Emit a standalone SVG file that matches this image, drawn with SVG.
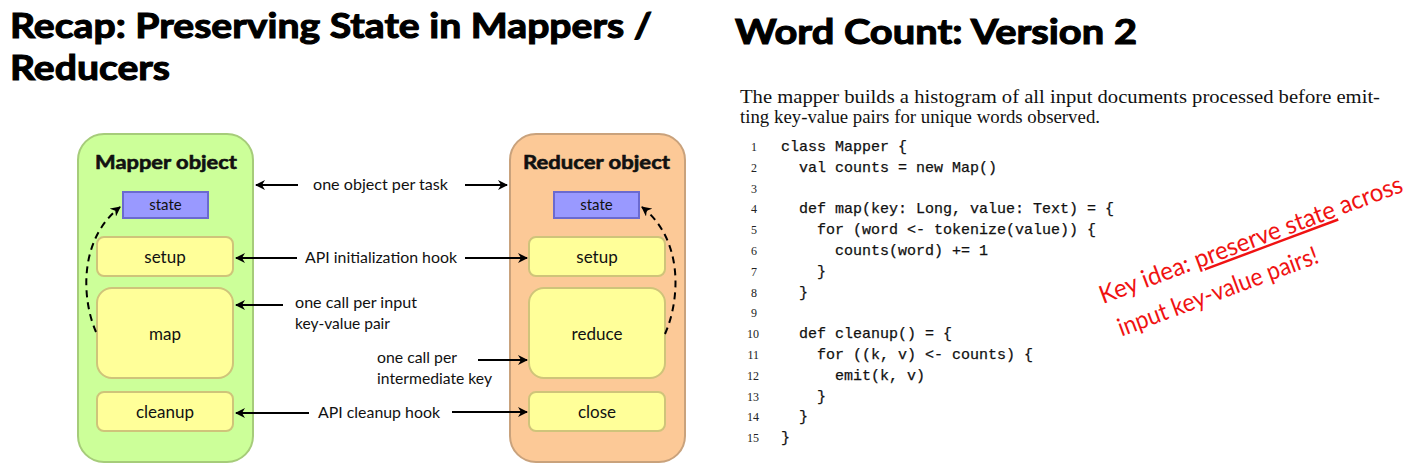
<svg xmlns="http://www.w3.org/2000/svg" width="1421" height="465" viewBox="0 0 1421 465">
<style>
.title{font-family:Lato,"Liberation Sans",sans-serif;font-weight:bold;font-size:35px;fill:#000;stroke:#000;stroke-width:1.1px}
.lbl{font-family:Lato,"Open Sans","Liberation Sans",sans-serif;font-size:16px;fill:#111}
.head{font-family:Lato,"Liberation Sans",sans-serif;font-weight:bold;font-size:19px;fill:#111;stroke:#111;stroke-width:0.6px}
.box{font-family:Lato,"Liberation Sans",sans-serif;font-size:17px;fill:#111;text-anchor:middle}
.st{font-family:Lato,"Liberation Sans",sans-serif;font-size:15px;fill:#111;text-anchor:middle}
.y{fill:#ffff99;stroke:#cfc47a;stroke-width:2}
.s{fill:#9999ff;stroke:#6a6ad0;stroke-width:2}
.conn{stroke:#000;stroke-width:2;fill:none}
.dash{stroke:#000;stroke-width:2;fill:none;stroke-dasharray:7 5}
.para{font-family:"Liberation Serif",serif;font-size:18.5px;fill:#111}
.code{font-family:"Liberation Mono",monospace;font-size:15px;fill:#111;white-space:pre;stroke:#111;stroke-width:0.25px}
.ln{font-family:"Liberation Serif",serif;font-size:12px;fill:#222;text-anchor:end}
.red{font-family:Lato,"Liberation Sans",sans-serif;font-size:25px;fill:#f01212}
</style>
<defs>
<marker id="ah" viewBox="0 0 10 10" refX="9" refY="5" markerWidth="5" markerHeight="5" orient="auto-start-reverse" markerUnits="strokeWidth">
<path d="M0,0 L10,5 L0,10 L3,5 z" fill="#000"/>
</marker>
</defs>

<text class="title" x="10" y="38" textLength="642" lengthAdjust="spacingAndGlyphs">Recap: Preserving State in Mappers /</text>
<text class="title" x="10" y="80" textLength="160" lengthAdjust="spacingAndGlyphs">Reducers</text>
<text class="title" x="735" y="44" textLength="402" lengthAdjust="spacingAndGlyphs">Word Count: Version 2</text>

<g id="mapper">
<rect x="78" y="134" width="175" height="328" rx="26" fill="#ccff99" stroke="#a6cc7a" stroke-width="2"/>
<text class="head" x="95" y="169" textLength="142" lengthAdjust="spacingAndGlyphs">Mapper object</text>
</g>
<g id="mapper-state"><rect class="s" x="123" y="192" width="85" height="26"/><text class="st" x="165.5" y="210">state</text></g>
<g id="mapper-setup"><rect class="y" x="97" y="237" width="136" height="39" rx="7"/><text class="box" x="165" y="263">setup</text></g>
<g id="mapper-map"><rect class="y" x="97" y="288" width="136" height="90" rx="15"/><text class="box" x="165" y="340">map</text></g>
<g id="mapper-cleanup"><rect class="y" x="97" y="392" width="136" height="39" rx="7"/><text class="box" x="165" y="418">cleanup</text></g>

<g id="reducer">
<rect x="510" y="134" width="175" height="328" rx="26" fill="#fcc997" stroke="#c9a27c" stroke-width="2"/>
<text class="head" x="523" y="169" textLength="147" lengthAdjust="spacingAndGlyphs">Reducer object</text>
</g>
<g id="reducer-state"><rect class="s" x="554" y="192" width="85" height="26"/><text class="st" x="596.5" y="210">state</text></g>
<g id="reducer-setup"><rect class="y" x="529" y="237" width="136" height="39" rx="7"/><text class="box" x="597" y="263">setup</text></g>
<g id="reducer-reduce"><rect class="y" x="529" y="288" width="136" height="90" rx="15"/><text class="box" x="597" y="340">reduce</text></g>
<g id="reducer-close"><rect class="y" x="529" y="392" width="136" height="39" rx="7"/><text class="box" x="597" y="418">close</text></g>

<g id="labels">
<text class="lbl" x="313" y="190" textLength="135" lengthAdjust="spacingAndGlyphs">one object per task</text>
<text class="lbl" x="305" y="263" textLength="152" lengthAdjust="spacingAndGlyphs">API initialization hook</text>
<text class="lbl" x="295" y="308" textLength="122" lengthAdjust="spacingAndGlyphs">one call per input</text>
<text class="lbl" x="295" y="329" textLength="95" lengthAdjust="spacingAndGlyphs">key-value pair</text>
<text class="lbl" x="377" y="363" textLength="80" lengthAdjust="spacingAndGlyphs">one call per</text>
<text class="lbl" x="377" y="384" textLength="115" lengthAdjust="spacingAndGlyphs">intermediate key</text>
<text class="lbl" x="318" y="418" textLength="122" lengthAdjust="spacingAndGlyphs">API cleanup hook</text>
</g>

<g id="connectors">
<line class="conn" x1="298" y1="185" x2="256" y2="185" marker-end="url(#ah)"/>
<line class="conn" x1="465" y1="185" x2="507" y2="185" marker-end="url(#ah)"/>
<line class="conn" x1="297" y1="258" x2="236" y2="258" marker-end="url(#ah)"/>
<line class="conn" x1="465" y1="258" x2="527" y2="258" marker-end="url(#ah)"/>
<line class="conn" x1="283" y1="305" x2="236" y2="305" marker-end="url(#ah)"/>
<line class="conn" x1="478" y1="360" x2="527" y2="360" marker-end="url(#ah)"/>
<line class="conn" x1="309" y1="413" x2="236" y2="413" marker-end="url(#ah)"/>
<line class="conn" x1="452" y1="412" x2="527" y2="412" marker-end="url(#ah)"/>
<path class="dash" d="M96,332 C82,300 78,240 120,207" marker-end="url(#ah)"/>
<path class="dash" d="M665,334 C680,300 684,240 642,207" marker-end="url(#ah)"/>
</g>

<g id="code">
<text class="para" x="740" y="103" textLength="640" lengthAdjust="spacingAndGlyphs">The mapper builds a histogram of all input documents processed before emit-</text>
<text class="para" x="740" y="123" textLength="360" lengthAdjust="spacingAndGlyphs">ting key-value pairs for unique words observed.</text>
<text class="ln" x="757" y="151">1</text><text class="code" x="781" y="151">class Mapper {</text>
<text class="ln" x="757" y="172">2</text><text class="code" x="781" y="172">  val counts = new Map()</text>
<text class="ln" x="757" y="193">3</text>
<text class="ln" x="757" y="213">4</text><text class="code" x="781" y="213">  def map(key: Long, value: Text) = {</text>
<text class="ln" x="757" y="234">5</text><text class="code" x="781" y="234">    for (word &lt;- tokenize(value)) {</text>
<text class="ln" x="757" y="255">6</text><text class="code" x="781" y="255">      counts(word) += 1</text>
<text class="ln" x="757" y="276">7</text><text class="code" x="781" y="276">    }</text>
<text class="ln" x="757" y="297">8</text><text class="code" x="781" y="297">  }</text>
<text class="ln" x="757" y="317">9</text>
<text class="ln" x="759" y="338">10</text><text class="code" x="781" y="338">  def cleanup() = {</text>
<text class="ln" x="759" y="359">11</text><text class="code" x="781" y="359">    for ((k, v) &lt;- counts) {</text>
<text class="ln" x="759" y="380">12</text><text class="code" x="781" y="380">      emit(k, v)</text>
<text class="ln" x="759" y="401">13</text><text class="code" x="781" y="401">    }</text>
<text class="ln" x="759" y="421">14</text><text class="code" x="781" y="421">  }</text>
<text class="ln" x="759" y="442">15</text><text class="code" x="781" y="442">}</text>
</g>

<g id="key-idea" transform="translate(1103,304) rotate(-20.5)">
<text class="red" x="0" y="0" textLength="322" lengthAdjust="spacingAndGlyphs">Key idea: <tspan text-decoration="underline">preserve state</tspan> across</text>
<text class="red" x="6" y="37" textLength="212" lengthAdjust="spacingAndGlyphs">input key-value pairs!</text>
</g>
</svg>
